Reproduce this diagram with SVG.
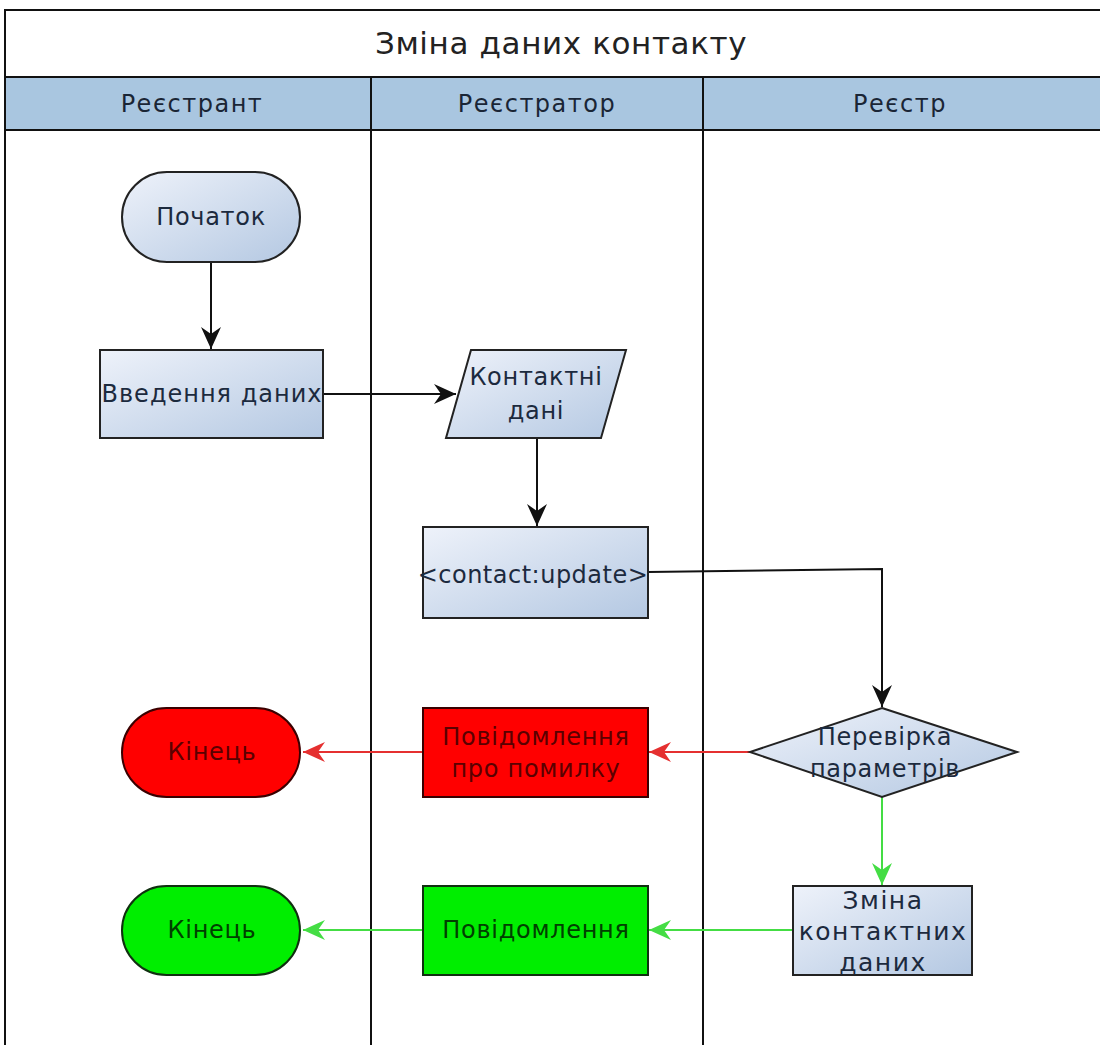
<svg xmlns="http://www.w3.org/2000/svg" width="1100" height="1045" viewBox="0 0 1100 1045">
<style>
.lane{fill:none;stroke:#111;stroke-width:2}
.node{stroke:#222;stroke-width:2;fill:url(#g)}
.t{font-family:"DejaVu Sans",sans-serif;font-size:24px;letter-spacing:0.7px;fill:#1c2a3e;text-anchor:middle;dominant-baseline:central}
.h{font-family:"DejaVu Sans",sans-serif;font-size:24px;letter-spacing:1.5px;fill:#1a2535;text-anchor:middle;dominant-baseline:central}
.ti{font-family:"DejaVu Sans",sans-serif;font-size:31px;letter-spacing:0.6px;fill:#222;text-anchor:middle;dominant-baseline:central}
.k{fill:none;stroke:#111;stroke-width:2}
.r{fill:none;stroke:#e53030;stroke-width:2}
.gr{fill:none;stroke:#44dd44;stroke-width:2}
</style>
<defs>
<linearGradient id="g" x1="0" y1="0" x2="1" y2="1">
<stop offset="0" stop-color="#eef2fa"/>
<stop offset="1" stop-color="#b4c8e2"/>
</linearGradient>
<marker id="ak" markerUnits="userSpaceOnUse" markerWidth="24" markerHeight="22" refX="22" refY="11" orient="auto"><path d="M0,1 L22,11 L0,21 L7,11 z" fill="#111"/></marker>
<marker id="ar" markerUnits="userSpaceOnUse" markerWidth="24" markerHeight="22" refX="22" refY="11" orient="auto"><path d="M0,1 L22,11 L0,21 L7,11 z" fill="#e53030"/></marker>
<marker id="ag" markerUnits="userSpaceOnUse" markerWidth="24" markerHeight="22" refX="22" refY="11" orient="auto"><path d="M0,1 L22,11 L0,21 L7,11 z" fill="#44dd44"/></marker>
</defs>
<rect width="1100" height="1045" fill="#fff"/>
<g id="pool">
<rect x="5" y="10" width="1110" height="1050" class="lane" fill="#fff"/>
<rect x="5" y="77" width="1110" height="53" fill="#a9c6e0" stroke="#111" stroke-width="2"/>
<line x1="371" y1="77" x2="371" y2="1050" class="lane"/>
<line x1="703" y1="77" x2="703" y2="1050" class="lane"/>
<text x="561" y="43" class="ti">Зміна даних контакту</text>
<text x="192" y="104" class="h">Реєстрант</text>
<text x="537" y="104" class="h">Реєстратор</text>
<text x="900" y="104" class="h">Реєстр</text>
</g>
<g id="connectors">
<path d="M211,262 L211,349" class="k" marker-end="url(#ak)"/>
<path d="M323,394 L456,394" class="k" marker-end="url(#ak)"/>
<path d="M537,438 L537,526" class="k" marker-end="url(#ak)"/>
<path d="M648,572 L882,569 L882,707" class="k" marker-end="url(#ak)"/>
<path d="M750,752 L649,752" class="r" marker-end="url(#ar)"/>
<path d="M423,752 L303,752" class="r" marker-end="url(#ar)"/>
<path d="M882,797 L882,885" class="gr" marker-end="url(#ag)"/>
<path d="M793,930 L649,930" class="gr" marker-end="url(#ag)"/>
<path d="M423,930 L303,930" class="gr" marker-end="url(#ag)"/>
</g>
<g id="start">
<rect x="122" y="172" width="178" height="90" rx="45" ry="45" class="node"/>
<text x="211" y="217" class="t">Початок</text>
</g>
<g id="input">
<rect x="100" y="350" width="223" height="88" class="node"/>
<text x="212" y="394" class="t" style="letter-spacing:1px">Введення даних</text>
</g>
<g id="data">
<polygon points="471,350 626,350 601,438 446,438" class="node"/>
<text x="536" y="377" class="t">Контактні</text>
<text x="536" y="411" class="t">дані</text>
</g>
<g id="update">
<rect x="423" y="527" width="225" height="91" class="node"/>
<text x="533" y="575" class="t" style="letter-spacing:0.5px">&lt;contact:update&gt;</text>
</g>
<g id="check">
<polygon points="882,708 1017,752 882,797 750,752" class="node"/>
<text x="885" y="737" class="t">Перевірка</text>
<text x="885" y="769" class="t">параметрів</text>
</g>
<g id="error">
<rect x="423" y="708" width="225" height="89" fill="#ff0000" stroke="#3a0000" stroke-width="2"/>
<text x="536" y="737" class="t" style="fill:#5a0000">Повідомлення</text>
<text x="536" y="769" class="t" style="fill:#5a0000">про помилку</text>
</g>
<g id="end-error">
<rect x="122" y="708" width="178" height="89" rx="44.5" ry="44.5" fill="#ff0000" stroke="#3a0000" stroke-width="2"/>
<text x="212" y="752" class="t" style="fill:#5a0000">Кінець</text>
</g>
<g id="change">
<rect x="793" y="886" width="179" height="89" class="node"/>
<text x="883" y="900" class="t" style="font-size:25px;letter-spacing:1.5px">Зміна</text>
<text x="883" y="931" class="t" style="font-size:25px;letter-spacing:1.5px">контактних</text>
<text x="883" y="962" class="t" style="font-size:25px;letter-spacing:1.5px">даних</text>
</g>
<g id="ok">
<rect x="423" y="886" width="225" height="89" fill="#00ee00" stroke="#103010" stroke-width="2"/>
<text x="536" y="930" class="t" style="fill:#004000">Повідомлення</text>
</g>
<g id="end-ok">
<rect x="122" y="886" width="178" height="89" rx="44.5" ry="44.5" fill="#00ee00" stroke="#103010" stroke-width="2"/>
<text x="212" y="930" class="t" style="fill:#004000">Кінець</text>
</g>
</svg>
